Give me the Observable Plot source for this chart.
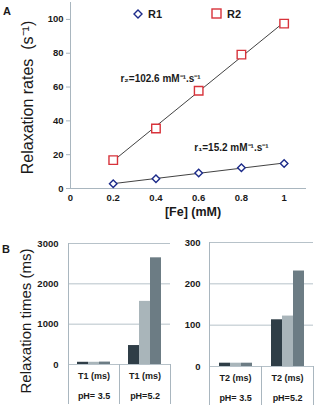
<!DOCTYPE html>
<html><head><meta charset="utf-8">
<script src="https://cdn.jsdelivr.net/npm/d3@7"></script>
<script src="https://cdn.jsdelivr.net/npm/@observablehq/plot@0.6"></script>
<style>
body{margin:0;background:#fff;}
#fig{position:relative;width:317px;height:408px;font-family:"Liberation Sans",Arial,sans-serif;color:#1a1a1a;overflow:hidden;background:#fff}
#fig > *{position:absolute}
.lbl{font-weight:bold}
</style></head><body><div id="fig"></div>
<script>
// ---- Panel A data ----
const feValues = [0.2, 0.4, 0.6, 0.8, 1.0];
const r1Values = [2.8, 5.8, 9.2, 12.3, 14.8];
const r2Values = [16.8, 35.5, 57.8, 79.2, 97.5];
const xTicksA = [0, 0.2, 0.4, 0.6, 0.8, 1];
const yTicksA = [0, 20, 40, 60, 80, 100];
const seriesA = ["R1", "R2"];
// ---- Panel B data ----
const groups = ["pH= 3.5", "pH=5.2"];
const barSeries = ["s1", "s2", "s3"];
const t1Values = [[55, 55, 60], [470, 1565, 2645]];
const t2Values = [[8, 8, 8], [113, 122, 231]];
const yTicksT1 = [0, 1000, 2000, 3000];
const yTicksT2 = [0, 100, 200, 300];

const FONT = '"Liberation Sans", Arial, sans-serif';
const axisColor = "#a9b6bf";
const gridColor = "#b7c2c9";
const textColor = "#1a1a1a";
const barColors = ["#2f3e47", "#a9b5ba", "#6c7c84"];
const fig = document.getElementById("fig");

function place(el, left, top) { el.style.left = left + "px"; el.style.top = top + "px"; fig.appendChild(el); }

// ---------- Panel A ----------
const rates = [
  ...feValues.map((fe, i) => ({fe, v: r1Values[i], s: "R1"})),
  ...feValues.map((fe, i) => ({fe, v: r2Values[i], s: "R2"}))
];
const chartA = Plot.plot({
  width: 317, height: 220,
  marginLeft: 70, marginRight: 12, marginTop: 2, marginBottom: 32,
  style: {background: "transparent", fontFamily: FONT, overflow: "visible", color: textColor},
  x: {domain: [0, 1.1]},
  y: {domain: [0, 110]},
  color: {domain: seriesA, range: ["#1c2b8a", "#d8333b"]},
  marks: [
    Plot.frame({anchor: "left", stroke: axisColor}),
    Plot.frame({anchor: "bottom", stroke: axisColor}),
    Plot.axisY({ticks: yTicksA, tickSize: 4, tickPadding: 3, stroke: axisColor, fill: textColor, fontWeight: "bold", fontSize: 9.5, label: null}),
    Plot.axisX({ticks: xTicksA, tickSize: 0, tickPadding: 6, tickFormat: d => String(d), fill: textColor, fontWeight: "bold", fontSize: 9.5, label: null}),
    Plot.linearRegressionY(rates, {x: "fe", y: "v", z: "s", stroke: "#111", strokeWidth: 0.8, ci: 0}),
    Plot.dot(rates.filter(d => d.s === "R1"), {x: "fe", y: "v", symbol: "diamond2", r: 3.4, stroke: "s", strokeWidth: 1.4, fill: "white"}),
    Plot.dot(rates.filter(d => d.s === "R2"), {x: "fe", y: "v", symbol: "square", r: 4.8, stroke: "s", strokeWidth: 1.4, fill: "white"}),
    Plot.text(rates.filter(d => d.s === "R2" && d.fe === 0.6), {x: "fe", y: "v", text: () => "r₂=102.6 mM⁻¹.s⁻¹", textAnchor: "end", dx: 2, dy: -12, fontWeight: "bold", fontSize: 10, fill: textColor}),
    Plot.text(rates.filter(d => d.s === "R1" && d.fe === 0.8), {x: "fe", y: "v", text: () => "r₁=15.2 mM⁻¹.s⁻¹", textAnchor: "middle", dx: -10, dy: -20, fontWeight: "bold", fontSize: 10, fill: textColor}),
    Plot.text(["Relaxation rates  (s⁻¹)"], {frameAnchor: "left", textAnchor: "middle", rotate: -90, dx: -43, dy: 2, fontSize: 16, fill: textColor}),
    Plot.text(["[Fe] (mM)"], {frameAnchor: "bottom", textAnchor: "middle", dx: 5, dy: 27.5, fontSize: 12.5, fontWeight: "bold", fill: textColor})
  ]
});
place(chartA, 0, 0);

// legend for panel A
const legend = document.createElement("div");
legend.style.cssText = "font-weight:bold;font-size:11px;line-height:12px;white-space:nowrap";
legend.innerHTML =
  `<span style="position:absolute;left:0;top:0;"><svg width="10" height="10" style="vertical-align:-1px"><path d="M5,1L9,5L5,9L1,5Z" fill="white" stroke="#1c2b8a" stroke-width="1.4"/></svg></span>` +
  `<span style="position:absolute;left:15px;top:0;">${seriesA[0]}</span>` +
  `<span style="position:absolute;left:78px;top:0;"><svg width="11" height="11" style="vertical-align:-1px"><rect x="1" y="1" width="9" height="9" fill="white" stroke="#d8333b" stroke-width="1.4"/></svg></span>` +
  `<span style="position:absolute;left:94px;top:0;">${seriesA[1]}</span>`;
place(legend, 133, 8);

const labA = document.createElement("div");
labA.className = "lbl"; labA.style.fontSize = "11px"; labA.textContent = "A";
place(labA, 3, 5);
const labB = document.createElement("div");
labB.className = "lbl"; labB.style.fontSize = "11px"; labB.textContent = "B";
place(labB, 2, 243);

// ---------- Panel B ----------
function barPanel(values, ticks, catLabel, o) {
  const data = groups.flatMap((g, i) => barSeries.map((s, j) => ({g, s, v: values[i][j]})));
  const cats = groups.map(g => ({g, label: catLabel}));
  const plotH = o.height - o.marginTop - o.marginBottom;
  const marks = [
    Plot.gridY(ticks, {stroke: gridColor, strokeOpacity: 1}),
    Plot.axisY({ticks, tickSize: 0, tickPadding: o.tickPadding, tickFormat: d => String(d), fill: textColor, fontWeight: "bold", fontSize: 9.5, label: null}),
    Plot.barY(data, {fx: "g", x: "s", y: "v", fill: "s"}),
    Plot.frame({anchor: "left", facet: "super", stroke: axisColor, insetBottom: -o.ext}),
    Plot.frame({anchor: "left", insetTop: plotH, insetBottom: -o.ext, stroke: axisColor}),
    Plot.frame({anchor: "right", insetTop: plotH, insetBottom: -o.ext, stroke: axisColor}),
    Plot.text(cats, {fx: "g", text: "label", frameAnchor: "bottom", dy: 14, fontWeight: "bold", fontSize: 9, fill: textColor}),
    Plot.text(cats, {fx: "g", text: "g", frameAnchor: "bottom", dy: 34, fontWeight: "bold", fontSize: 9, fill: textColor})
  ];
  if (o.ylabel) {
    marks.push(Plot.text([{g: groups[0]}], {fx: "g", text: () => o.ylabel, frameAnchor: "left", textAnchor: "middle", rotate: -90, dx: -42, dy: 17, fontSize: 15, fill: textColor}));
  }
  return Plot.plot({
    width: o.width, height: o.height,
    marginLeft: o.marginLeft, marginRight: o.marginRight, marginTop: o.marginTop, marginBottom: o.marginBottom,
    style: {background: "transparent", fontFamily: FONT, overflow: "visible", color: textColor},
    fx: {domain: groups, padding: 0, axis: null},
    x: {domain: barSeries, paddingInner: 0, paddingOuter: 0.8, axis: null},
    y: {domain: [0, ticks[ticks.length - 1]]},
    color: {domain: barSeries, range: barColors},
    marks
  });
}

const chartB1 = barPanel(t1Values, yTicksT1, "T1 (ms)", {
  width: 172, height: 172, marginLeft: 68, marginRight: 2, marginTop: 7, marginBottom: 44,
  tickPadding: 10, ext: 39, ylabel: "Relaxation times (ms)"
});
place(chartB1, 0, 236);

const chartB2 = barPanel(t2Values, yTicksT2, "T2 (ms)", {
  width: 147, height: 172, marginLeft: 39, marginRight: 4, marginTop: 6, marginBottom: 42,
  tickPadding: 9, ext: 38
});
place(chartB2, 170, 236);
</script></body></html>
